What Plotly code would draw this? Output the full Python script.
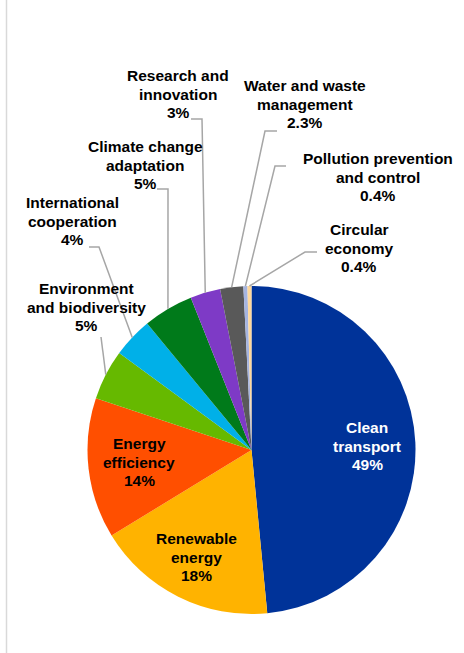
import math
import plotly.graph_objects as go

categories = ["Clean transport", "Renewable energy", "Energy efficiency",
              "Environment and biodiversity", "International cooperation",
              "Climate change adaptation", "Research and innovation",
              "Water and waste management", "Pollution prevention and control",
              "Circular economy"]
values = [49, 18, 14, 5, 4, 5, 3, 2.3, 0.4, 0.4]
value_labels = ["49%", "18%", "14%", "5%", "4%", "5%", "3%", "2.3%", "0.4%", "0.4%"]
label_lines = [["Clean", "transport"], ["Renewable", "energy"], ["Energy", "efficiency"],
               ["Environment", "and biodiversity"], ["International", "cooperation"],
               ["Climate change", "adaptation"], ["Research and", "innovation"],
               ["Water and waste", "management"], ["Pollution prevention", "and control"],
               ["Circular", "economy"]]
colors = ["#003399", "#FFB300", "#FF4F00", "#66B900", "#00B0E8",
          "#007A1A", "#7E3AC6", "#595959", "#A5B4E0", "#FFD89B"]

W, H = 464, 653
CX, CY, R = 251.5, 450, 164
LINE_H = 18.5
FONT_SIZE = 15.5

# label centre positions (pixels, middle line) and leader-line paths (pixels)
label_pos = [(367, 446), (196, 557), (139, 462), (86, 307), (72, 221),
             (145, 165), (178, 94), (305, 104), (378, 177), (359, 248)]
label_color = ["white", "black", "black", "black", "black",
               "black", "black", "black", "black", "black"]
leader_start = [None, None, None, [(101, 337)], [(89, 247), (99, 247)],
                [(157, 189), (168, 189)], [(191, 119), (202, 119)],
                [(277, 131), (265, 131)], [(286, 166), (275, 166)],
                [(317, 252), (305, 252)]]

fig = go.Figure()
fig.add_trace(go.Pie(
    labels=categories, values=values, sort=False, direction="clockwise",
    rotation=0, marker=dict(colors=colors, line=dict(color="white", width=0)),
    textinfo="none", hoverinfo="label+percent", showlegend=False,
    domain=dict(x=[(CX - R) / W, (CX + R) / W], y=[(H - CY - R) / H, (H - CY + R) / H]),
))

total = sum(values)
cum = 0
shapes = []
annotations = []
for i, v in enumerate(values):
    mid = (cum + v / 2) / total * 360
    cum += v
    px, py = label_pos[i]
    lines = label_lines[i] + [value_labels[i]]
    n = len(lines)
    for k, ln in enumerate(lines):
        annotations.append(dict(
            x=px, y=py + (k - (n - 1) / 2) * LINE_H, xref="x", yref="y",
            text="<b>" + ln + "</b>", showarrow=False,
            xanchor="center", yanchor="middle", align="center",
            font=dict(family="Liberation Sans, Arial", size=FONT_SIZE,
                      color=label_color[i])))
    if leader_start[i]:
        ex = CX + R * math.sin(math.radians(mid))
        ey = CY - R * math.cos(math.radians(mid))
        pts = leader_start[i] + [(ex, ey)]
        path = "M " + " L ".join(f"{x},{y}" for x, y in pts)
        shapes.append(dict(type="path", path=path, xref="x", yref="y",
                           line=dict(color="#A6A6A6", width=1.5)))

shapes.append(dict(type="line", x0=6.5, x1=6.5, y0=0, y1=H, xref="x", yref="y",
                   line=dict(color="#D9D9D9", width=1.5)))

fig.update_layout(
    width=W, height=H, margin=dict(l=0, r=0, t=0, b=0),
    paper_bgcolor="white", plot_bgcolor="rgba(0,0,0,0)",
    xaxis=dict(range=[0, W], visible=False, fixedrange=True),
    yaxis=dict(range=[H, 0], visible=False, fixedrange=True),
    shapes=shapes, annotations=annotations,
    font=dict(family="Liberation Sans, Arial", size=14, color="black"),
)

fig.write_html("out.html", config={"displayModeBar": False},
               post_script="document.body.style.margin='0';document.body.style.padding='0';")
